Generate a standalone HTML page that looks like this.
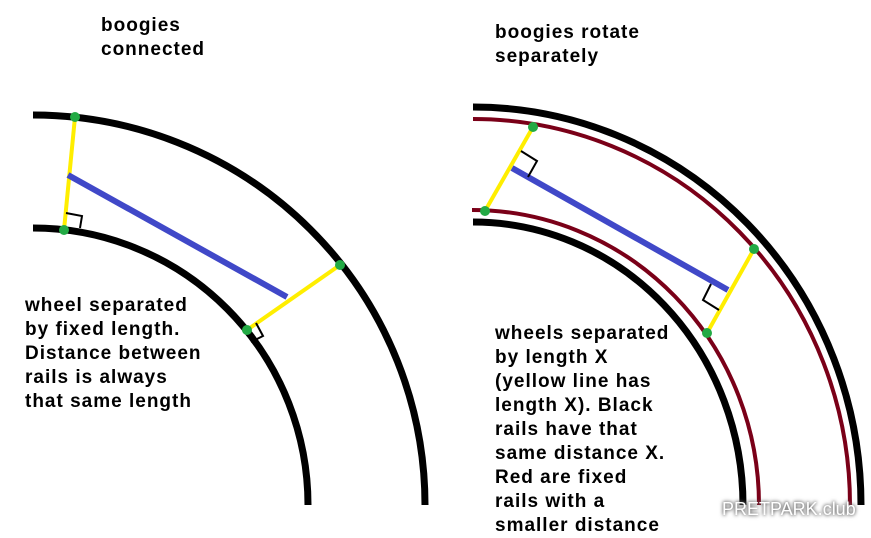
<!DOCTYPE html>
<html><head><style>
body{margin:0;width:871px;height:538px;background:#fff;overflow:hidden;position:relative;font-family:"Liberation Sans",Arial,sans-serif;}
.t{position:absolute;font-weight:bold;font-size:19px;letter-spacing:1px;color:#000;line-height:24px;white-space:nowrap}
svg{position:absolute;left:0;top:0}
.logo{position:absolute;left:722px;top:499px;font-size:18px;color:#fff;text-shadow:0 0 3px #555,0 0 5px #777;}
</style></head><body>
<svg width="871" height="538">
<g fill="none" stroke-linecap="butt">
<path d="M33 115 A392 390 0 0 1 425 505" stroke="#000" stroke-width="7"/>
<path d="M33 228 A275 277 0 0 1 308 505" stroke="#000" stroke-width="7"/>
<path d="M473 107 A388 398 0 0 1 861 505" stroke="#000" stroke-width="7"/>
<path d="M473 222 A270 283 0 0 1 743 505" stroke="#000" stroke-width="7"/>
<path d="M473 119 A377 386 0 0 1 850 505" stroke="#7a0018" stroke-width="4"/>
<path d="M472 210 A287 295 0 0 1 759 505" stroke="#7a0018" stroke-width="4"/>
</g>
<g stroke="#ffee00" stroke-width="4">
<line x1="75" y1="117" x2="64" y2="230"/><line x1="340" y1="265" x2="247" y2="330"/>
<line x1="533" y1="127" x2="485" y2="211"/><line x1="754" y1="249" x2="707" y2="333"/>
</g>
<g stroke="#4048c8" stroke-width="6">
<line x1="68" y1="175" x2="287" y2="297"/><line x1="512" y1="168" x2="728" y2="290"/>
</g>
<g fill="none" stroke="#000" stroke-width="2">
<polyline points="66,213 82,216 80,228"/>
<polyline points="256,323 263,336 251,342"/>
<polyline points="521,151 537,161 528,177"/>
<polyline points="711,284 703,300 719,310"/>
</g>
<g fill="#22aa44">
<circle cx="75" cy="117" r="5"/><circle cx="64" cy="230" r="5"/><circle cx="340" cy="265" r="5"/><circle cx="247" cy="330" r="5"/>
<circle cx="533" cy="127" r="5"/><circle cx="485" cy="211" r="5"/><circle cx="754" cy="249" r="5"/><circle cx="707" cy="333" r="5"/>
</g>
</svg>
<div class="t" style="left:101px;top:14px">boogies<br>connected</div>
<div class="t" style="left:495px;top:21px">boogies rotate<br>separately</div>
<div class="t" style="left:25px;top:294px">wheel separated<br>by fixed length.<br>Distance between<br>rails is always<br>that same length</div>
<div class="t" style="left:495px;top:322px">wheels separated<br>by length X<br>(yellow line has<br>length X). Black<br>rails have that<br>same distance X.<br>Red are fixed<br>rails with a<br>smaller distance</div>
<div class="logo">PRETPARK.club</div>
</body></html>
